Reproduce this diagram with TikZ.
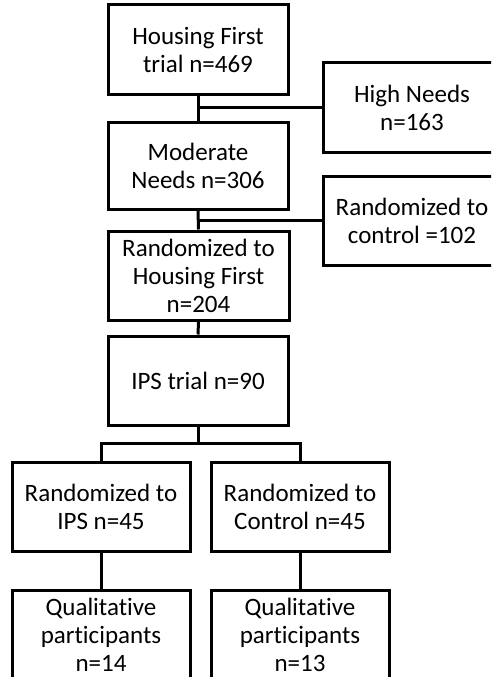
\documentclass[tikz,border=0pt]{standalone}
\usepackage{fontspec}
\setmainfont[RawFeature={-liga}]{Carlito}
\begin{document}
\begin{tikzpicture}[x=1pt,y=-1pt,
  box/.style={draw=black, line width=3pt, fill=white, minimum width=180pt, minimum height=89pt,
    align=center, inner sep=0pt, font=\fontsize{25}{28}\selectfont},
  conn/.style={draw=black, line width=3pt}]
\useasboundingbox (0,0) rectangle (491,677);
\clip (0,0) rectangle (491,677);
\node[box] (hf) at (198,49.5) {Housing First\\trial n=469};
\node[box, minimum width=178pt] (high) at (412,107.5) {High Needs\\n=163};
\node[box, minimum height=87pt] (mod) at (198,165.5) {Moderate\\Needs n=306};
\node[box, minimum width=178pt] (ctrl) at (412,220.5) {Randomized to\\control =102};
\node[box, minimum width=181pt] (rhf) at (198.5,275.5) {Randomized to\\Housing First\\n=204};
\node[box] (ips) at (198,380.5) {IPS trial n=90};
\node[box, minimum width=178pt] (rips) at (101,506.5) {Randomized to\\IPS n=45};
\node[box, minimum width=178pt] (rctl) at (300,506.5) {Randomized to\\Control n=45};
\node[box, minimum width=178pt] (q1) at (101,634.5) {Qualitative\\participants\\n=14};
\node[box, minimum width=178pt] (q2) at (300,634.5) {Qualitative\\participants\\n=13};
\coordinate (j1) at (hf.south |- high.west);
\coordinate (j2) at (mod.south |- ctrl.west);
\coordinate (s) at (198,443);
\draw[conn] (hf.south) -- (mod.north);
\draw[conn] (j1) -- (high.west);
\draw[conn] (mod.south) -- (rhf.north);
\draw[conn] (j2) -- (ctrl.west);
\draw[conn] (rhf.south) -- (ips.north);
\draw[conn] (ips.south) -- (s);
\draw[conn] (rips.north) -- (rips.north |- s) -- (rctl.north |- s) -- (rctl.north);
\draw[conn] (rips.south) -- (q1.north);
\draw[conn] (rctl.south) -- (q2.north);
\end{tikzpicture}
\end{document}
